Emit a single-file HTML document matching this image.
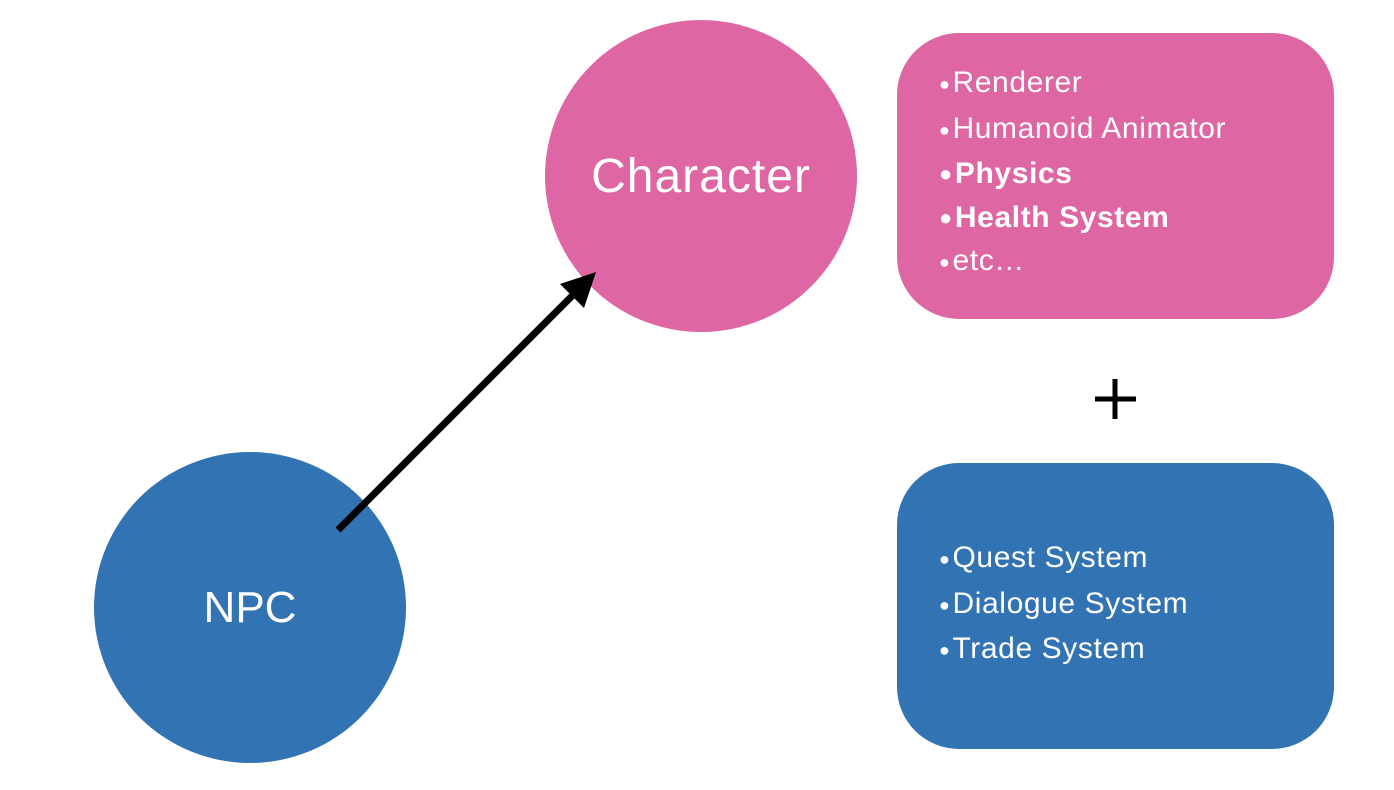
<!DOCTYPE html>
<html><head><meta charset="utf-8"><style>
body{margin:0;width:1394px;height:790px;background:#fff;position:relative;overflow:hidden;font-family:"Liberation Sans","Noto Sans CJK KR",sans-serif;}
.c{position:absolute;border-radius:50%;color:#fff;display:flex;align-items:center;justify-content:center;}
.b{position:absolute;border-radius:62px;color:#fff;}
.l{position:absolute;left:42px;font-size:30px;line-height:43.5px;letter-spacing:0.6px;white-space:nowrap;}
.l span.d{font-size:18px;vertical-align:2px;margin-right:2px;}
</style></head><body>
<div class="c" style="left:545px;top:20px;width:312px;height:312px;background:#dd66a3;font-size:48px;letter-spacing:1px;">Character</div>
<div class="c" style="left:94px;top:452px;width:312px;height:311px;background:#3273b3;font-size:44px;">NPC</div>
<div class="b" style="left:897px;top:33px;width:437px;height:286px;background:#dd66a3;">
<div class="l" style="top:28px;">
<div><span class="d">●</span>Renderer</div>
<div><span class="d">●</span>Humanoid Animator</div>
<div style="font-weight:bold"><span class="d" style="font-size:22px">●</span>Physics</div>
<div style="font-weight:bold"><span class="d" style="font-size:22px">●</span>Health System</div>
<div><span class="d">●</span>etc…</div>
</div></div>
<div class="b" style="left:897px;top:463px;width:437px;height:286px;background:#3273b3;">
<div class="l" style="top:73px;">
<div><span class="d">●</span>Quest System</div>
<div><span class="d">●</span>Dialogue System</div>
<div><span class="d">●</span>Trade System</div>
</div></div>
<svg style="position:absolute;left:0;top:0" width="1394" height="790">
<line x1="338" y1="530" x2="578" y2="290" stroke="#000" stroke-width="7"/>
<polygon points="596,272 560,284 584,308" fill="#000"/>
<line x1="1095" y1="399" x2="1136" y2="399" stroke="#000" stroke-width="5"/>
<line x1="1115" y1="379" x2="1115" y2="419" stroke="#000" stroke-width="5"/>
</svg>
</body></html>
